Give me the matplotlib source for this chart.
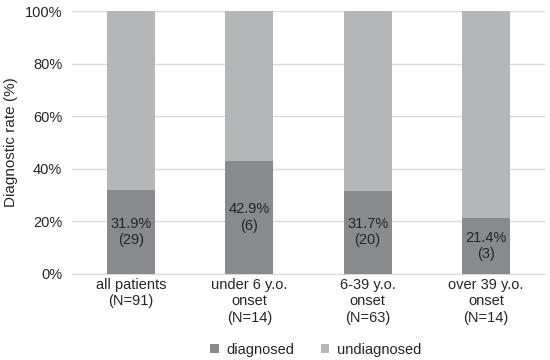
import matplotlib.pyplot as plt
from matplotlib.ticker import PercentFormatter

categories = ["all patients\n(N=91)", "under 6 y.o.\nonset\n(N=14)",
              "6-39 y.o.\nonset\n(N=63)", "over 39 y.o.\nonset\n(N=14)"]
diagnosed_pct = [31.9, 42.9, 31.7, 21.4]
diagnosed_n = [29, 6, 20, 3]
undiagnosed_pct = [100 - p for p in diagnosed_pct]

dark = "#898a8d"
light = "#b5b6b8"
text_col = "#262626"

plt.rcParams["font.family"] = ["Liberation Sans", "DejaVu Sans"]

fig, ax = plt.subplots(figsize=(5.5, 3.6), dpi=100)
fig.subplots_adjust(left=0.131, right=0.991, top=0.969, bottom=0.239)

x = range(len(categories))
ax.bar(x, diagnosed_pct, width=0.405, color=dark, label="diagnosed", zorder=3)
ax.bar(x, undiagnosed_pct, width=0.405, bottom=diagnosed_pct, color=light,
       label="undiagnosed", zorder=3)

for i, (p, n) in enumerate(zip(diagnosed_pct, diagnosed_n)):
    ax.text(i, p / 2, f"{p}%\n({n})", ha="center", va="center",
            fontsize=10.5, color=text_col, linespacing=1.2, zorder=4)

ax.set_xlim(-0.5, len(categories) - 0.5)
ax.set_ylim(0, 100)
ax.set_yticks(range(0, 101, 20))
ax.yaxis.set_major_formatter(PercentFormatter(decimals=0))
ax.set_xticks(list(x))
ax.set_xticklabels(categories, fontsize=10.5, color=text_col, linespacing=1.2)
ax.tick_params(axis="y", labelsize=10.5, colors=text_col, length=0, pad=7)
ax.tick_params(axis="x", length=0, pad=3)
ax.set_ylabel("Diagnostic rate (%)", fontsize=11, color=text_col, labelpad=5)

ax.grid(axis="y", color="#d9d9d9", linewidth=1, zorder=0)
for s in ["top", "right", "left"]:
    ax.spines[s].set_visible(False)
ax.spines["bottom"].set_color("#d9d9d9")

ax.legend(loc="upper center", bbox_to_anchor=(0.515, -0.222), ncol=2, frameon=False,
          fontsize=10.5, handlelength=0.6, handleheight=0.6, columnspacing=1.8,
          handletextpad=0.5, labelcolor=text_col, borderpad=0.2)

fig.savefig("out.png")
